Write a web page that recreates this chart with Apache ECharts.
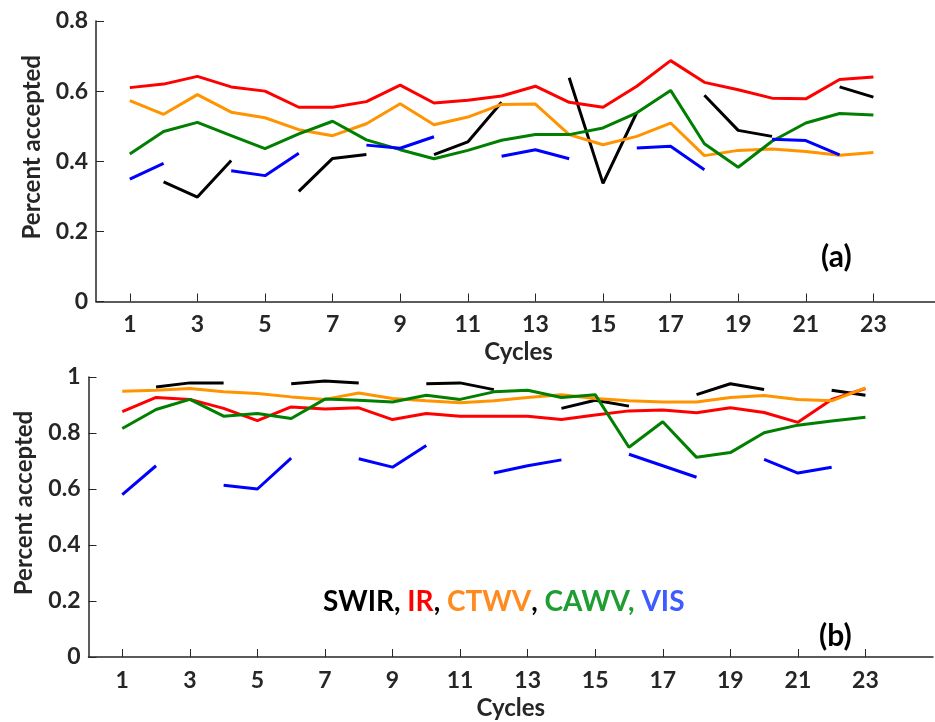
<!DOCTYPE html>
<html>
<head>
<meta charset="utf-8">
<script src="https://cdn.jsdelivr.net/npm/echarts@6/dist/echarts.min.js"></script>
<style>
  html, body { margin: 0; padding: 0; background: #fff; }
  #chart { width: 935px; height: 722px; }
</style>
</head>
<body>
<div id="chart"></div>
<script>
var cycles = [1,2,3,4,5,6,7,8,9,10,11,12,13,14,15,16,17,18,19,20,21,22,23];
var tickCycles = [1,3,5,7,9,11,13,15,17,19,21,23];

// panel (a)
var a_swir = [null,0.341,0.298,0.402,null,0.314,0.408,0.419,null,0.419,0.455,0.568,null,0.638,0.337,0.539,null,0.588,0.488,0.471,null,0.612,0.583];
var a_ir   = [0.610,0.620,0.642,0.612,0.600,0.554,0.554,0.570,0.617,0.566,0.574,0.586,0.614,0.568,0.554,0.614,0.687,0.625,0.604,0.580,0.578,0.633,0.640];
var a_ctwv = [0.573,0.534,0.590,0.540,0.524,0.490,0.473,0.507,0.564,0.504,0.526,0.562,0.563,0.476,0.447,0.471,0.509,0.416,0.431,0.435,0.428,0.417,0.425];
var a_cawv = [0.421,0.485,0.511,0.473,0.436,0.478,0.514,0.461,0.433,0.407,0.431,0.460,0.476,0.476,0.495,0.538,0.602,0.450,0.383,0.457,0.509,0.536,0.532];
var a_vis  = [0.349,0.394,null,0.373,0.359,0.423,null,0.446,0.437,0.470,null,0.414,0.433,0.407,null,0.438,0.443,0.376,null,0.463,0.459,0.418,null];

// panel (b)
var b_swir = [null,0.964,0.979,0.979,null,0.976,0.986,0.979,null,0.976,0.979,0.955,null,0.888,0.917,0.896,null,0.937,0.976,0.955,null,0.953,0.935];
var b_ir   = [0.876,0.927,0.920,0.888,0.844,0.893,0.886,0.890,0.848,0.870,0.860,0.860,0.860,0.848,0.864,0.879,0.882,0.872,0.890,0.873,0.838,0.920,0.959];
var b_ctwv = [0.949,0.953,0.959,0.947,0.941,0.929,0.920,0.943,0.923,0.915,0.908,0.915,0.927,0.937,0.923,0.915,0.911,0.911,0.927,0.934,0.920,0.915,0.961];
var b_cawv = [0.816,0.884,0.920,0.860,0.870,0.852,0.921,0.917,0.911,0.935,0.920,0.947,0.953,0.927,0.937,0.749,0.840,0.713,0.730,0.801,0.828,0.843,0.856];
var b_vis  = [0.580,0.683,null,0.613,0.600,0.710,null,0.708,0.678,0.755,null,0.657,0.683,0.704,null,0.724,0.683,0.642,null,0.706,0.657,0.678,null];

var colors = { swir: '#000000', ir: '#ff0000', ctwv: '#ff9400', cawv: '#007f00', vis: '#0000ff' };
var font = 'Lato';
var ink = '#262626';

function pairs(vals) {
    return cycles.map(function (c, i) { return [c, vals[i]]; });
}

function line(name, vals, color, idx) {
    return {
        name: name,
        type: 'line',
        xAxisIndex: idx,
        yAxisIndex: idx,
        data: pairs(vals),
        showSymbol: false,
        connectNulls: false,
        silent: true,
        lineStyle: { color: color, width: 3 },
        itemStyle: { color: color }
    };
}

function xAxisFor(idx) {
    return {
        type: 'value',
        gridIndex: idx,
        min: 0,
        max: 25,
        name: 'Cycles',
        nameLocation: 'middle',
        nameGap: 39,
        nameTextStyle: { fontFamily: font, fontWeight: 'bold', fontSize: 24, color: ink },
        axisLine: { lineStyle: { color: ink, width: 1.5 } },
        axisTick: { inside: true, length: 8, customValues: tickCycles, lineStyle: { color: ink } },
        axisLabel: { customValues: tickCycles, margin: 12, fontFamily: font, fontWeight: 'bold', fontSize: 23, color: ink },
        splitLine: { show: false }
    };
}

function yAxisFor(idx, max) {
    return {
        type: 'value',
        gridIndex: idx,
        min: 0,
        max: max,
        interval: 0.2,
        name: 'Percent accepted',
        nameLocation: 'middle',
        nameGap: 52,
        nameTextStyle: { fontFamily: font, fontWeight: 'bold', fontSize: 24, color: ink, padding: [0, 0, 0, 28] },
        axisLine: { show: true, lineStyle: { color: ink, width: 1.5 } },
        axisTick: { show: true, inside: true, length: 8, lineStyle: { color: ink } },
        axisLabel: { margin: 8, fontFamily: font, fontWeight: 'bold', fontSize: 23, color: ink },
        splitLine: { show: false }
    };
}

var chart = echarts.init(document.getElementById('chart'));
chart.setOption({
    backgroundColor: '#ffffff',
    animation: false,
    grid: [
        { left: 96, top: 21, width: 845, height: 280.5, outerBoundsMode: 'none' },
        { left: 88.5, top: 377, width: 844.5, height: 280, outerBoundsMode: 'none' }
    ],
    xAxis: [xAxisFor(0), xAxisFor(1)],
    yAxis: [yAxisFor(0, 0.8), yAxisFor(1, 1)],
    series: [
        line('SWIR', a_swir, colors.swir, 0),
        line('IR', a_ir, colors.ir, 0),
        line('CTWV', a_ctwv, colors.ctwv, 0),
        line('CAWV', a_cawv, colors.cawv, 0),
        line('VIS', a_vis, colors.vis, 0),
        line('SWIR', b_swir, colors.swir, 1),
        line('IR', b_ir, colors.ir, 1),
        line('CTWV', b_ctwv, colors.ctwv, 1),
        line('CAWV', b_cawv, colors.cawv, 1),
        line('VIS', b_vis, colors.vis, 1)
    ],
    graphic: [
        {
            type: 'text', left: 821, top: 242,
            style: { text: '(a)', fontFamily: font, fontWeight: 'bold', fontSize: 30, fill: '#000' }
        },
        {
            type: 'text', left: 819, top: 621,
            style: { text: '(b)', fontFamily: font, fontWeight: 'bold', fontSize: 30, fill: '#000' }
        },
        {
            type: 'text', left: 323, top: 588,
            style: {
                text: '{k|SWIR, }{r|IR}{k|, }{o|CTWV}{k|, }{g|CAWV, }{b|VIS}',
                rich: {
                    k: { fontFamily: font, fontWeight: 'bold', fontSize: 28, fill: '#000' },
                    r: { fontFamily: font, fontWeight: 'bold', fontSize: 28, fill: '#ff0000' },
                    o: { fontFamily: font, fontWeight: 'bold', fontSize: 28, fill: '#ff8a1f' },
                    g: { fontFamily: font, fontWeight: 'bold', fontSize: 28, fill: '#1e9e32' },
                    b: { fontFamily: font, fontWeight: 'bold', fontSize: 28, fill: '#3d5bff' }
                }
            }
        }
    ]
});

window.addEventListener('resize', function () { chart.resize(); });
</script>
</body>
</html>
